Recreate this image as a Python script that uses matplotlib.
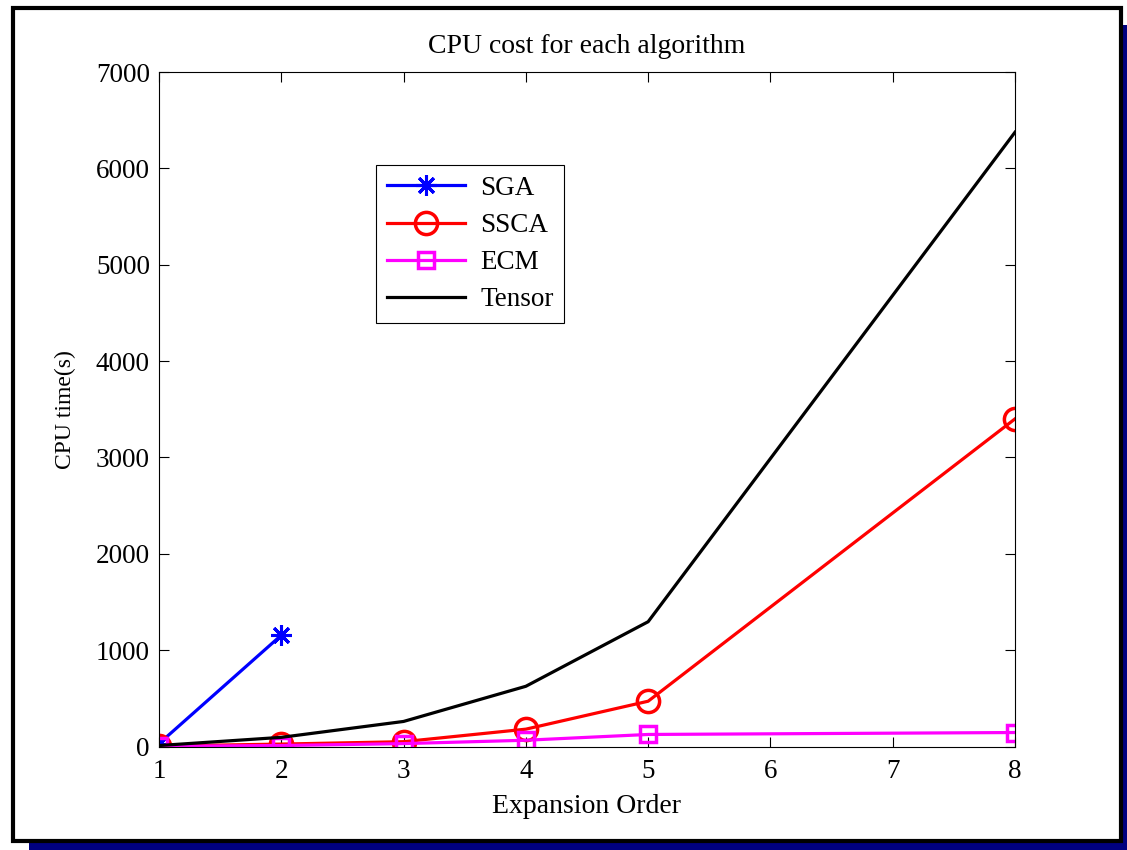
import matplotlib
matplotlib.use("Agg")
import matplotlib.pyplot as plt
from matplotlib.patches import Rectangle

orders = [1, 2, 3, 4, 5, 8]
sga_x = [1, 2]
sga = [30, 1155]
ssca = [5, 25, 50, 180, 470, 3400]
ecm = [2, 10, 30, 65, 125, 145]
tensor = [10, 95, 260, 625, 1295, 6375]
xticks = [1, 2, 3, 4, 5, 6, 7, 8]
yticks = [0, 1000, 2000, 3000, 4000, 5000, 6000, 7000]

plt.rcParams['font.family'] = ['Liberation Serif', 'DejaVu Serif']
fig = plt.figure(figsize=(11.27, 8.5), dpi=100)
W, H = 1127, 850

# frame with shadow
fig.patches.append(Rectangle((29 / W, 0), (W - 29) / W, 7 / H, transform=fig.transFigure,
                             facecolor='#000080', edgecolor='none', zorder=-3))
fig.patches.append(Rectangle((1122 / W, 0), 5 / W, (850 - 25) / H, transform=fig.transFigure,
                             facecolor='#000080', edgecolor='none', zorder=-3))
fig.patches.append(Rectangle((13 / W, 1 - 841 / H), (1121 - 13) / W, (841 - 8) / H,
                             transform=fig.transFigure, facecolor='white', edgecolor='black',
                             linewidth=3.0, zorder=-2))

ax = fig.add_axes([159 / W, 1 - 746.5 / H, (1015 - 159) / W, (746.5 - 72) / H])
ax.set_zorder(1)
ax.plot(sga_x, sga, color='blue', lw=2.3, marker=(8, 2, 0), ms=15, mew=2.2, label='SGA')
ax.plot(orders, ssca, color='red', lw=2.3, marker='o', ms=16, mfc='none', mew=2.5, label='SSCA')
ax.plot(orders, ecm, color='magenta', lw=2.3, marker='s', ms=11, mfc='none', mew=2.5, label='ECM')
ax.plot(orders, tensor, color='black', lw=2.3, label='Tensor')

ax.set_xlim(1, 8)
ax.set_ylim(0, 7000)
ax.set_xticks(xticks)
ax.set_yticks(yticks)
ax.tick_params(direction='in', top=True, right=True, labelsize=19.5, length=7, width=0.8)
ax.tick_params(axis='x', pad=9)
ax.tick_params(axis='y', pad=6.5)
for s in ax.spines.values():
    s.set_linewidth(0.8)
ax.set_title('CPU cost for each algorithm', fontsize=20, pad=14)
ax.set_xlabel('Expansion Order', fontsize=20, labelpad=7)
ax.set_ylabel('CPU time(s)', fontsize=17, labelpad=14)

leg = ax.legend(loc='upper left', bbox_to_anchor=(376 / W, 1 - 165 / H),
                bbox_transform=fig.transFigure, fontsize=19.5, handlelength=2.9,
                fancybox=False, framealpha=1, edgecolor='black', borderpad=0.4,
                labelspacing=0.45, handletextpad=0.55, borderaxespad=0)
leg.get_frame().set_linewidth(0.8)

fig.savefig('out.png', dpi=100)
